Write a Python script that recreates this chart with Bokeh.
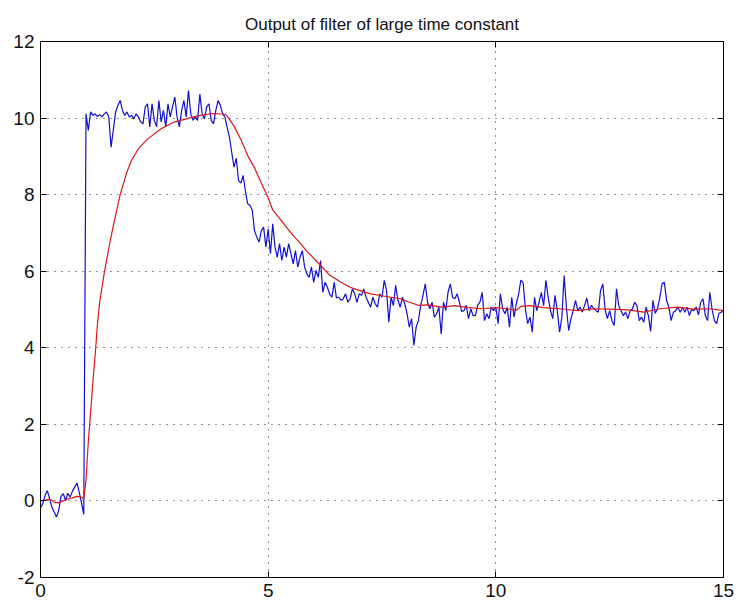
from bokeh.plotting import figure
from bokeh.models import Range1d, LinearAxis, FixedTicker
from bokeh.embed import file_html
from bokeh.resources import INLINE

TITLE = "Output of filter of large time constant"
X_TICKS = [0, 5, 10, 15]
Y_TICKS = [-2, 0, 2, 4, 6, 8, 10, 12]
Y_TICK_LABELS = {-2: "-2"}

# sampled signal (blue), one value every 0.05 s from t = 0 to t = 15
DT = 0.05
blue = [
    # 0.00 - 0.95
    -0.18, -0.07, 0.14, 0.27, 0.06, -0.16, -0.29, -0.42, -0.25, 0.12,
    0.19, 0.01, 0.2, 0.1, 0.25, 0.36, 0.47, 0.23, -0.05, -0.35,
    # 1.00 - 4.05
    10.11, 9.68, 10.16, 10.07, 10.11, 10.04, 10.09, 10.03, 10.11, 10.16,
    10.03, 9.24, 9.7, 10.16, 10.33, 10.46, 10.2, 10.07, 10.16, 10.03,
    10.07, 9.98, 10.11, 10.03, 9.9, 9.85, 10.29, 10.37, 9.77, 10.37,
    9.94, 9.77, 10.46, 9.9, 10.2, 9.77, 10.37, 10.03, 10.29, 10.55,
    10.03, 9.77, 10.2, 10.46, 10.03, 10.72, 10.11, 9.94, 10.03, 9.94,
    10.63, 10.11, 9.98, 10.29, 10.37, 9.94, 9.85, 10.2, 10.46, 10.33,
    10.11, 10.03,
    # 4.10 - 6.30
    9.75, 9.5, 9.1, 8.72, 8.95, 8.37, 8.3, 8.5, 8.1, 7.76,
    7.72, 7.6, 7.06, 6.89, 6.76, 7.06, 7.15, 6.63, 7.1, 6.46,
    7.24, 6.63, 6.37, 6.72, 6.28, 6.63, 6.37, 6.72, 6.46, 6.19,
    6.54, 6.11, 6.37, 6.54, 6.11, 5.93, 5.84, 6.11, 5.71, 6.02,
    5.84, 6.28, 5.45, 5.71, 5.58,
    # 6.35 - 10.50
    5.4, 5.32, 5.71, 5.3, 5.32, 5.24, 5.28, 5.41, 5.19, 5.28,
    5.54, 5.41, 5.19, 5.41, 5.37, 5.54, 5.32, 5.19, 5.06, 5.32,
    5.15, 5.06, 5.41, 5.32, 5.76, 5.5, 4.67, 5.32, 5.1, 5.63,
    5.24, 5.06, 5.32, 5.15, 4.89, 4.54, 4.76, 4.06, 4.54, 4.71,
    5.11, 5.37, 5.67, 5.19, 5.02, 5.19, 4.8, 4.89, 5.06, 4.36,
    5.19, 4.97, 5.45, 5.67, 5.32, 5.28, 5.41, 5.19, 4.95, 4.97,
    5.11, 4.76, 5.02, 4.84, 4.84, 5.11, 5.19, 5.45, 4.71, 4.89,
    4.76, 5.06, 4.97, 5.06, 4.63, 5.41, 5.02, 4.89, 5.06, 4.54,
    5.32, 4.8, 5.15, 5.4,
    # 10.55 - 15.00
    5.77, 5.7, 5.0, 4.63, 4.8, 4.41, 5.32, 4.97, 5.19, 5.45,
    5.1, 5.76, 5.32, 4.97, 4.76, 5.37, 4.97, 4.41, 4.8, 5.89,
    5.06, 4.45, 4.76, 4.97, 5.24, 4.97, 5.06, 4.93, 5.11, 5.3,
    4.97, 5.11, 5.02, 4.97, 4.93, 5.5, 5.67, 5.0, 4.76, 4.97,
    4.7, 4.58, 5.54, 5.1, 4.97, 4.84, 4.93, 4.76, 4.97, 5.02,
    5.19, 5.1, 4.71, 4.8, 4.67, 5.06, 4.84, 4.43, 5.24, 4.9,
    5.02, 5.3, 5.67, 5.71, 5.24, 5.06, 4.71, 4.93, 4.97, 5.06,
    4.93, 5.06, 4.93, 5.06, 4.84, 5.0, 4.97, 5.06, 4.86, 5.19,
    5.28, 4.85, 4.71, 5.45, 5.0, 4.71, 4.63, 4.9, 4.93, 4.95,
]

# filtered output (red)
red_t = [0.0, 0.1, 0.2, 0.3, 0.4, 0.5, 0.6, 0.7, 0.8, 0.9, 0.95,
         1.0, 1.05, 1.1, 1.15, 1.2, 1.25, 1.3, 1.4, 1.5, 1.6, 1.75, 1.9,
         2.0, 2.15, 2.35, 2.65, 2.9, 3.2, 3.5, 3.8, 4.05, 4.1, 4.25, 4.4,
         4.55, 4.7, 4.85, 5.0, 5.1, 5.25, 5.4, 5.55, 5.7, 5.85, 6.0, 6.15,
         6.35, 6.6, 6.8, 7.0, 7.25, 7.5, 7.7, 7.9, 8.1, 8.3, 8.5, 8.8,
         9.1, 9.4, 9.7, 10.0, 10.25, 10.45, 10.55, 10.75, 11.05, 11.4,
         11.8, 12.15, 12.5, 12.9, 13.25, 13.6, 14.0, 14.35, 14.7, 15.0]
red_v = [0.0, 0.02, 0.05, -0.03, -0.05, 0.0, 0.05, 0.08, 0.12, 0.1, 0.05,
         0.55, 1.55, 2.3, 3.1, 3.8, 4.6, 5.2, 5.95, 6.6, 7.2, 8.0, 8.6,
         8.9, 9.2, 9.45, 9.72, 9.88, 9.98, 10.07, 10.12, 10.1, 10.05, 9.79, 9.44,
         9.02, 8.7, 8.3, 7.92, 7.6, 7.38, 7.15, 6.93, 6.74, 6.52, 6.34, 6.15,
         5.9, 5.71, 5.58, 5.5, 5.41, 5.36, 5.32, 5.28, 5.19, 5.11, 5.12, 5.06,
         5.1, 5.05, 5.02, 5.05, 5.02, 4.98, 5.08, 5.1, 5.05, 5.02,
         4.97, 5.02, 5.01, 4.99, 4.93, 5.02, 5.06, 5.01, 5.02, 4.97]

t_blue = [round(i * DT, 2) for i in range(len(blue))]

FONT = "Liberation Sans"

p = figure(width=737, height=609, output_backend="svg", toolbar_location=None,
           x_range=Range1d(0, 15), y_range=Range1d(-2, 12),
           min_border_left=40, min_border_right=14, min_border_top=41,
           min_border_bottom=32, background_fill_color="white",
           border_fill_color="white")

p.title.text = TITLE
p.title.align = "center"
p.title.text_font = FONT
p.title.text_font_size = "17px"
p.title.text_font_style = "normal"
p.title.text_color = "#111111"
p.title.standoff = 15

p.outline_line_color = "black"
p.outline_line_width = 1

# tick-only axes on the right and top (box style)
right_ax = LinearAxis()
top_ax = LinearAxis()
p.add_layout(right_ax, "right")
p.add_layout(top_ax, "above")

for ax in p.xaxis:
    ax.ticker = FixedTicker(ticks=X_TICKS)
for ax in p.yaxis:
    ax.ticker = FixedTicker(ticks=Y_TICKS)

for ax in p.xaxis + p.yaxis:
    ax.axis_line_color = "black"
    ax.axis_line_width = 1
    ax.major_tick_in = 6
    ax.major_tick_out = 0
    ax.major_tick_line_color = "black"
    ax.minor_tick_line_color = None
    ax.major_label_text_font = FONT
    ax.major_label_text_font_size = "19px"
    ax.major_label_text_color = "#111111"
    ax.major_label_standoff = 6

p.yaxis[0].major_label_overrides = Y_TICK_LABELS

for ax in (right_ax, top_ax):
    ax.major_label_text_color = None
    ax.major_label_text_font_size = "1px"
    ax.major_label_standoff = 0

p.xgrid.ticker = FixedTicker(ticks=X_TICKS)
p.ygrid.ticker = FixedTicker(ticks=Y_TICKS)
for g in (p.xgrid, p.ygrid):
    g.grid_line_color = "#222222"
    g.grid_line_width = 1
    g.grid_line_dash = "1 6"

p.line(t_blue, blue, line_color="#1010d0", line_width=1.2)
p.line(red_t, red_v, line_color="#e01515", line_width=1.2)

open("out.html", "w").write(file_html(p, INLINE))
